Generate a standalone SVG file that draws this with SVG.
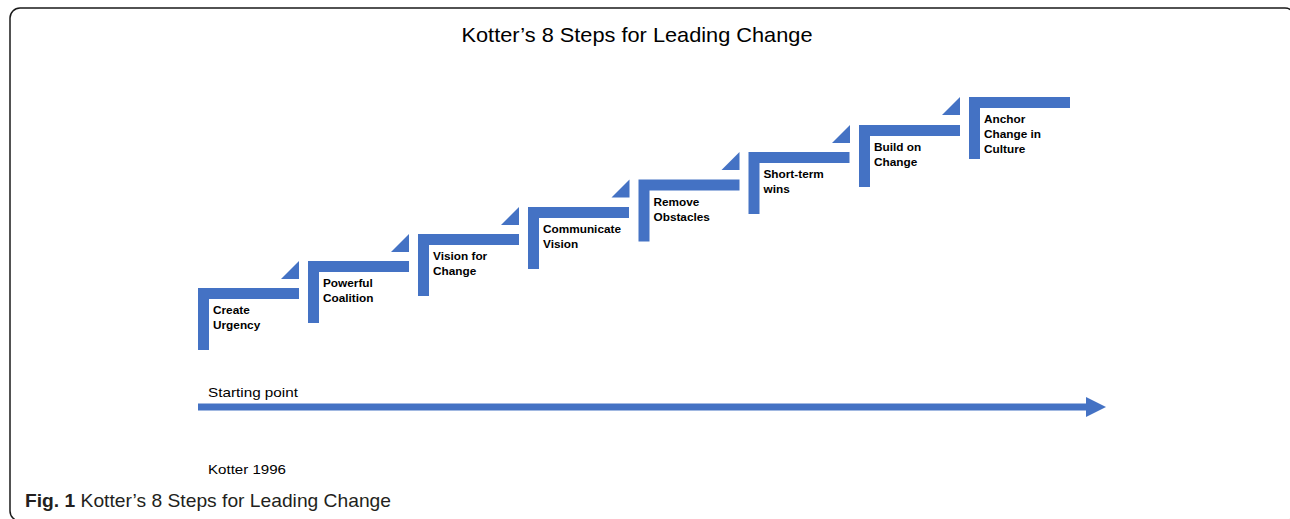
<svg xmlns="http://www.w3.org/2000/svg" width="1290" height="519" viewBox="0 0 1290 519">
  <style>
    .bar { fill: #4472C4; }
    .lbl { font-family: "Liberation Sans", Arial, sans-serif; font-weight: bold; font-size: 11.8px; fill: #000; }
    .txt { font-family: "Liberation Sans", Arial, sans-serif; font-size: 13.5px; fill: #000; }
    .title { font-family: "Liberation Sans", Arial, sans-serif; font-size: 21px; fill: #000; }
    .cap { font-family: "Liberation Sans", Arial, sans-serif; font-size: 19px; fill: #231f20; }
  </style>
  <defs>
    <!-- one step: vertical riser + horizontal tread, origin at the top-left corner -->
    <path id="step" d="M0 0 H101 V11 H11 V62 H0 Z"/>
    <!-- small wedge sitting before each step -->
    <path id="wedge" d="M-27 18 L-9 0 V18 Z"/>
    <marker id="head" markerWidth="20" markerHeight="20" refX="0" refY="10" markerUnits="userSpaceOnUse" orient="auto">
      <path d="M0 0 L20 10 L0 20 Z" fill="#4472C4"/>
    </marker>
  </defs>

  <!-- outer panel; its bottom and right edges run past the canvas -->
  <rect x="10" y="8" width="1285" height="513" rx="10" ry="10" fill="#fff" stroke="#1a1a1a" stroke-width="1.5"/>

  <text class="title" x="637" y="42" text-anchor="middle" textLength="351" lengthAdjust="spacingAndGlyphs">Kotter’s 8 Steps for Leading Change</text>

  <g id="step1" transform="translate(198,288)">
    <use href="#step" class="bar"/>
    <text class="lbl" x="15" y="26">Create</text>
    <text class="lbl" x="15" y="41">Urgency</text>
  </g>
  <g id="step2" transform="translate(308,261)">
    <use href="#wedge" class="bar"/>
    <use href="#step" class="bar"/>
    <text class="lbl" x="15" y="26">Powerful</text>
    <text class="lbl" x="15" y="41">Coalition</text>
  </g>
  <g id="step3" transform="translate(418,234)">
    <use href="#wedge" class="bar"/>
    <use href="#step" class="bar"/>
    <text class="lbl" x="15" y="26">Vision for</text>
    <text class="lbl" x="15" y="41">Change</text>
  </g>
  <g id="step4" transform="translate(528,207)">
    <use href="#wedge" class="bar"/>
    <use href="#step" class="bar"/>
    <text class="lbl" x="15" y="26">Communicate</text>
    <text class="lbl" x="15" y="41">Vision</text>
  </g>
  <g id="step5" transform="translate(638.5,179.5)">
    <use href="#wedge" class="bar"/>
    <use href="#step" class="bar"/>
    <text class="lbl" x="15" y="26">Remove</text>
    <text class="lbl" x="15" y="41">Obstacles</text>
  </g>
  <g id="step6" transform="translate(748.5,152)">
    <use href="#wedge" class="bar"/>
    <use href="#step" class="bar"/>
    <text class="lbl" x="15" y="26">Short-term</text>
    <text class="lbl" x="15" y="41">wins</text>
  </g>
  <g id="step7" transform="translate(859,125)">
    <use href="#wedge" class="bar"/>
    <use href="#step" class="bar"/>
    <text class="lbl" x="15" y="26">Build on</text>
    <text class="lbl" x="15" y="41">Change</text>
  </g>
  <g id="step8" transform="translate(969,97)">
    <use href="#wedge" class="bar"/>
    <use href="#step" class="bar"/>
    <text class="lbl" x="15" y="26">Anchor</text>
    <text class="lbl" x="15" y="41">Change in</text>
    <text class="lbl" x="15" y="56">Culture</text>
  </g>

  <g id="connectors">
    <line x1="198" y1="407" x2="1086" y2="407" stroke="#4472C4" stroke-width="7" marker-end="url(#head)"/>
  </g>

  <text class="txt" x="208" y="397" textLength="90" lengthAdjust="spacingAndGlyphs">Starting point</text>
  <text class="txt" x="208" y="474" textLength="78" lengthAdjust="spacingAndGlyphs">Kotter 1996</text>

  <text class="cap" x="25" y="507" textLength="366" lengthAdjust="spacingAndGlyphs"><tspan font-weight="bold">Fig. 1</tspan> Kotter’s 8 Steps for Leading Change</text>
</svg>
